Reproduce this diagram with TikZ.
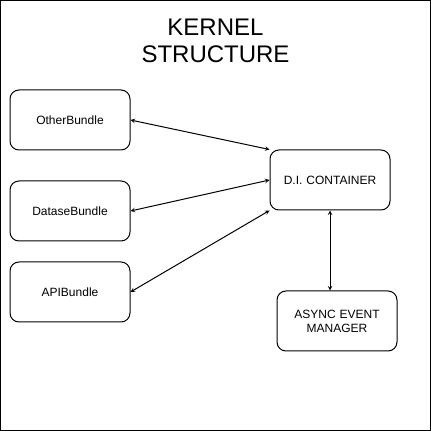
\documentclass[tikz,border=0pt]{standalone}
\usepackage{fontspec}
\setmainfont{Liberation Sans}
\usetikzlibrary{positioning,arrows}
\tikzstyle{kbox}=[rectangle, rounded corners=9pt, draw=black, line width=1pt,
                  minimum width=120pt, minimum height=60pt, inner sep=2pt,
                  text centered, text width=112pt, font=\fontsize{12}{14}\selectfont]
\tikzstyle{pline}=[<->, >=stealth, line width=1pt]

\begin{document}
\begin{tikzpicture}[x=1pt, y=1pt, node distance=0mm]
\useasboundingbox (0,0) rectangle (431,431);
\draw[line width=1pt] (0.5,0.5) rectangle (430.5,430.5);

\node (TITLE) [align=center, font=\fontsize{24}{27}\selectfont] at (215.5,390) {KERNEL\\STRUCTURE};

\node (OTHERB) [kbox] at (70,311) {OtherBundle};
\node (DATASEB) [kbox,below=30pt of OTHERB] {DataseBundle};
\node (APIB) [kbox,below=20pt of DATASEB] {APIBundle};
\node (DICONT) [kbox] at (330,251) {D.I. CONTAINER};
\node (ASYNCEM) [kbox,below=80pt of DICONT,xshift=7pt] {ASYNC EVENT\\MANAGER};

 \draw[pline] (OTHERB.east) -- (DICONT.north west);
 \draw[pline] (DATASEB.east) -- (DICONT.west);
 \draw[pline] (APIB.east) -- (DICONT.south west);
 \draw[pline] (DICONT.south) -- (DICONT.south |- ASYNCEM.north);

\end{tikzpicture}
\end{document}
